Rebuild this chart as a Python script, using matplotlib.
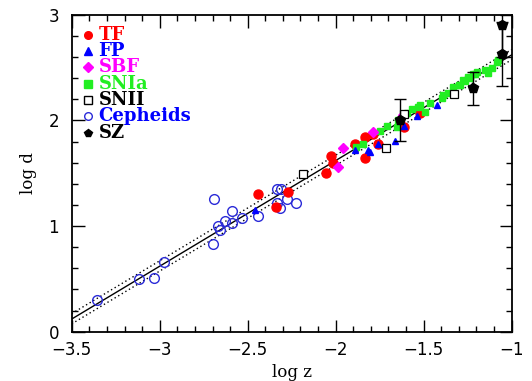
import matplotlib
matplotlib.use('Agg')
import matplotlib.pyplot as plt
from matplotlib.ticker import MultipleLocator
import numpy as np

# 資料：log z 與 log d
cepheids_x = [-3.355, -3.116, -3.034, -2.974, -2.695, -2.691, -2.669, -2.657, -2.629,
              -2.591, -2.591, -2.534, -2.440, -2.335, -2.311, -2.332, -2.317, -2.278, -2.226]
cepheids_y = [0.30, 0.499, 0.511, 0.657, 0.828, 1.254, 1.004, 0.963, 1.051,
              1.143, 1.026, 1.074, 1.096, 1.348, 1.348, 1.216, 1.174, 1.254, 1.216]
tf_x = [-2.443, -2.341, -2.269, -2.055, -2.028, -2.017, -1.890, -1.833, -1.832,
        -1.790, -1.761, -1.612, -1.521]
tf_y = [1.304, 1.178, 1.320, 1.500, 1.664, 1.600, 1.775, 1.841, 1.642,
        1.869, 1.775, 1.936, 2.068]
fp_x = [-2.459, -1.890, -1.805, -1.815, -1.758, -1.663, -1.611, -1.540, -1.423]
fp_y = [1.152, 1.720, 1.705, 1.720, 1.777, 1.809, 1.948, 2.040, 2.147]
sbf_x = [-1.957, -1.985, -1.790, -1.616]
sbf_y = [1.743, 1.563, 1.888, 2.052]
snia_x = [-1.885, -1.847, -1.748, -1.707, -1.653, -1.644, -1.597, -1.568, -1.530, -1.521,
          -1.493, -1.464, -1.398, -1.389, -1.360, -1.332, -1.300, -1.294, -1.275, -1.265,
          -1.246, -1.237, -1.218, -1.209, -1.195, -1.152, -1.133, -1.114, -1.085, -1.076]
snia_y = [1.752, 1.777, 1.900, 1.948, 1.940, 2.005, 2.074, 2.106, 2.130, 2.147,
          2.083, 2.163, 2.210, 2.240, 2.263, 2.314, 2.336, 2.336, 2.383, 2.374,
          2.409, 2.400, 2.440, 2.437, 2.462, 2.478, 2.447, 2.494, 2.557, 2.573]
snii_x = [-2.188, -1.714, -1.612, -1.329]
snii_y = [1.493, 1.737, 2.061, 2.251]
sz_x = [-1.635, -1.222, -1.053, -1.053]
sz_y = [2.005, 2.305, 2.630, 2.904]
sz_err = [0.20, 0.155, 0.30, 0.30]

# Hubble 關係 log d = log z + log(c/H0)
h0 = 72.0
h0_band = [64.0, 80.0]

plt.rcParams['font.family'] = ['DejaVu Serif']
fig = plt.figure(figsize=(5.32, 3.81), dpi=100)
ax = fig.add_axes([0.1348, 0.1294, 0.827, 0.832])

xx = np.array([-3.5, -1.0])
ax.plot(xx, xx + np.log10(3e5 / h0), color='black', lw=1.0, zorder=2)
for h in h0_band:
    ax.plot(xx, xx + np.log10(3e5 / h), color='black', lw=1.0, ls=(0, (1, 2)), zorder=2)

ax.plot(cepheids_x, cepheids_y, 'o', mfc='none', mec='#2a2ad8', mew=1.0, ms=7, zorder=3)
ax.plot(tf_x, tf_y, 'o', color='red', ms=6.5, zorder=3)
ax.plot(snia_x, snia_y, 's', color='#22ee22', ms=5, zorder=4)
ax.plot(fp_x, fp_y, '^', color='blue', ms=5, zorder=4)
ax.plot(sbf_x, sbf_y, 'D', color='magenta', ms=5, zorder=4)
ax.plot(snii_x, snii_y, 's', mfc='white', mec='black', mew=0.9, ms=6, zorder=5)
ax.errorbar(sz_x, sz_y, yerr=sz_err, fmt='p', color='black', ms=7, elinewidth=1.0,
            capsize=4, capthick=1.0, zorder=6)

ax.set_xlim(-3.5, -1)
ax.set_ylim(0, 3)
ax.xaxis.set_major_locator(MultipleLocator(0.5))
ax.xaxis.set_minor_locator(MultipleLocator(0.1))
ax.yaxis.set_major_locator(MultipleLocator(1))
ax.yaxis.set_minor_locator(MultipleLocator(0.2))
ax.xaxis.set_major_formatter(plt.FuncFormatter(lambda v, p: f'{v:g}'.replace('-', '\u2212')))
ax.tick_params(which='both', direction='in', top=True, right=True, width=1.0)
ax.tick_params(which='major', length=9, labelsize=12)
ax.tick_params(axis='x', which='major', pad=7)
ax.tick_params(axis='y', which='major', pad=9)
ax.tick_params(which='minor', length=4.5)
for lab in ax.get_xticklabels() + ax.get_yticklabels():
    lab.set_family('DejaVu Sans')
for s in ax.spines.values():
    s.set_linewidth(1.3)

ax.set_xlabel('log z', fontsize=12, labelpad=3)
ax.set_ylabel('log d', fontsize=12, labelpad=8)

# 自製圖例
legend_items = [
    ('TF', 'o', 'red', 'red', 'red'),
    ('FP', '^', 'blue', 'blue', 'blue'),
    ('SBF', 'D', 'magenta', 'magenta', 'magenta'),
    ('SNIa', 's', '#22ee22', '#22ee22', '#22ee22'),
    ('SNII', 's', 'white', 'black', 'black'),
    ('Cepheids', 'o', 'none', '#2a2ad8', 'blue'),
    ('SZ', 'p', 'black', 'black', 'black'),
]
for i, (name, m, fc, ec, tc) in enumerate(legend_items):
    y = 0.937 - i * 0.0515
    ax.plot([0.038], [y], m, transform=ax.transAxes, mfc=fc, mec=ec, ms=5.5,
            mew=1.0, clip_on=False)
    ax.text(0.061, y, name, transform=ax.transAxes, color=tc, fontsize=13,
            fontweight='bold', va='center', ha='left')

fig.savefig('out.png', dpi=100)
